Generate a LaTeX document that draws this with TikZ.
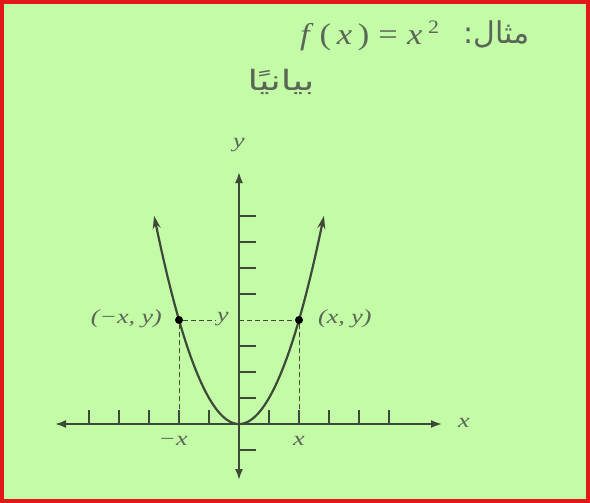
\documentclass[tikz,border=0pt]{standalone}
\usepackage{graphicx}
\usepackage{fontspec}
\setmainfont{Liberation Serif}
\newfontfamily\arabicfont[Script=Arabic]{DejaVu Sans}
\TeXXeTstate=1
\usetikzlibrary{arrows.meta}
\definecolor{bg}{HTML}{C4FBA7}
\definecolor{frame}{HTML}{E01818}
\definecolor{ink}{HTML}{3E4A38}
\definecolor{txt}{HTML}{5A6656}
\newcommand{\wider}[1]{\scalebox{1.3}[1]{#1}}
\tikzset{
  axis/.style={draw=ink, line width=1.8pt, {Latex[length=11pt,width=8pt]}-{Latex[length=11pt,width=8pt]}},
  curve/.style={draw=ink, line width=2.2pt, {Stealth[length=13pt,width=8pt]}-{Stealth[length=13pt,width=8pt]}},
  tick/.style={draw=ink, line width=1.3pt},
  guide/.style={draw=ink, line width=1pt, dash pattern=on 5pt off 3pt},
  lbl/.style={text=txt, font=\fontsize{20}{24}\selectfont\itshape, inner sep=1pt},
  dot/.style={circle, fill=black, inner sep=0pt, minimum size=8pt}
}
\begin{document}
\begin{tikzpicture}[x=1pt,y=-1pt]
\fill[bg] (0,0) rectangle (590,503);
\draw[frame, line width=4pt] (2,2) rectangle (588,501);
\useasboundingbox (0,0) rectangle (590,503);
% titles
\node[text=txt, font=\fontsize{30}{34}\selectfont, inner sep=0pt, anchor=west] (formula) at (300,36)
  {\scalebox{1.15}[1]{\textit{f}\,(\,\textit{x}\,)\hspace{8pt}=\hspace{8pt}\textit{x}\,\raisebox{11pt}{\fontsize{19}{20}\selectfont 2}}};
\node[text=txt, font=\arabicfont\fontsize{30}{34}\selectfont, inner sep=0pt, anchor=east] (mithal) at (530,34) {\beginR مثال:\endR};
\node[text=txt, font=\arabicfont\fontsize{28}{32}\selectfont, inner sep=0pt] (bayani) at (281,82) {\scalebox{1.35}[1]{\beginR بيانيًا\endR}};
% axes
\coordinate (O) at (239,424);
\coordinate (xl) at (55,424);
\coordinate (xr) at (442,424);
\coordinate (yt) at (239,172);
\coordinate (yb) at (239,480);
\draw[axis] (xl) -- (xr);
\draw[axis] (yb) -- (yt);
\foreach \k in {-5,-4,-3,-2,-1,1,2,3,4,5}
  \draw[tick] (239+30*\k,424) -- ++(0,-14);
\foreach \k in {-1,1,2,3,5,6,7,8}
  \draw[tick] (239,424-26*\k) -- ++(17,0);
% curve
\draw[curve] plot[domain=-2.83:2.83, samples=120, smooth] ({239+30*\x},{424-26*\x*\x});
% points and guides
\node[dot] (pl) at (179,320) {};
\node[dot] (pr) at (299,320) {};
\coordinate (fl) at (179,424);
\coordinate (fr) at (299,424);
\coordinate (ya) at (239,320);
\node[lbl] (ylab) at (223,319) {\wider{y}};
\coordinate (ylw) at (ylab.west |- pl);
\draw[guide] (pl) -- (ylw);
\draw[guide] (ya) -- (pr);
\draw[guide] (pl) -- (fl);
\draw[guide] (pr) -- (fr);
\node[lbl, anchor=east] (lpl) at (163,319) {\wider{(−x, y)}};
\node[lbl, anchor=west] (lpr) at (317,319) {\wider{(x, y)}};
\node[lbl] (mx) at (173,441) {\wider{−x}};
\node[lbl] (px) at (299,441) {\wider{x}};
\node[lbl] (xlab) at (464,423) {\wider{x}};
\node[lbl] (ylabt) at (239,145) {\wider{y}};
\end{tikzpicture}
\end{document}
